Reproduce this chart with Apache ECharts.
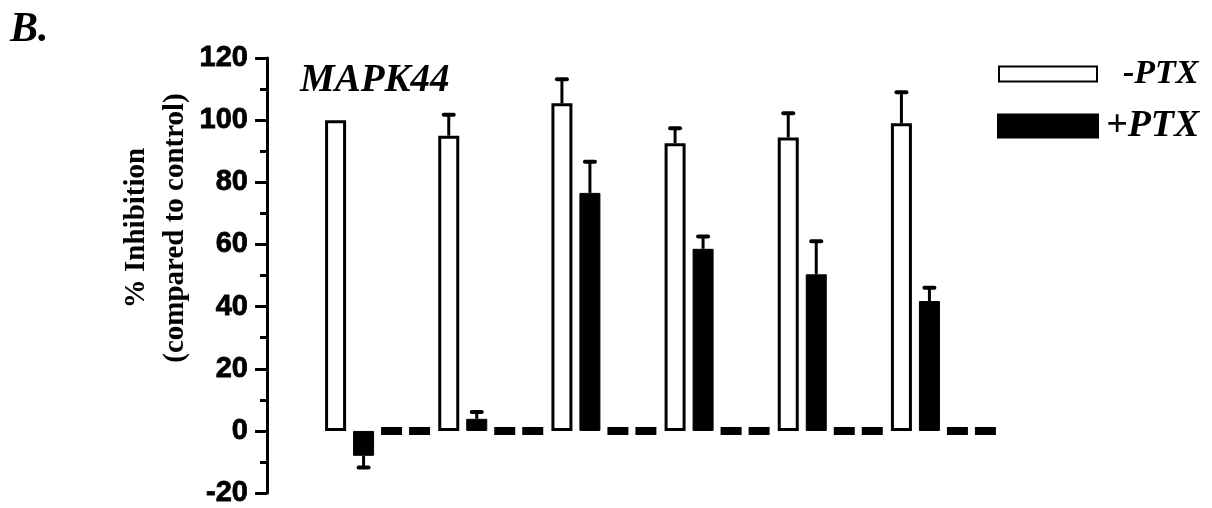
<!DOCTYPE html>
<html>
<head>
<meta charset="utf-8">
<script src="https://cdn.jsdelivr.net/npm/echarts@6/dist/echarts.min.js"></script>
<style>html,body{margin:0;padding:0;background:#fff;}#c{width:1212px;height:508px;}</style>
</head>
<body>
<div id="c"></div>
<script>
// ---- data ----
var categories = ['1', '2', '3', '4', '5', '6'];
var minusPTX = [100, 95, 105.4, 92.6, 94.4, 99];
var minusPTXErr = [0, 6.7, 7.8, 4.8, 7.8, 10];
var plusPTX = [-8, 3.9, 76.6, 58.6, 50.4, 41.8];
var plusPTXErr = [3.8, 2.2, 10, 4, 10.6, 4.3];
var ctrlA = [0, 0, 0, 0, 0, 0];
var ctrlB = [0, 0, 0, 0, 0, 0];
var yTicks = { min: -20, max: 120, interval: 20 };

// ---- layout constants ----
var BAR_W = 21, BAR_GAP = 7;
var slotOffset = function (slot) { return (slot - 1.5) * (BAR_W + BAR_GAP); };

var errData = [];
minusPTX.forEach(function (v, i) { if (minusPTXErr[i] > 0) errData.push([i, v, minusPTXErr[i], 0]); });
plusPTX.forEach(function (v, i) { if (plusPTXErr[i] > 0) errData.push([i, v, plusPTXErr[i], 1]); });

var serif = 'Liberation Serif';
var chart = echarts.init(document.getElementById('c'));
chart.setOption({
  animation: false,
  backgroundColor: '#fff',
  grid: { left: 321, right: 212, top: 58, bottom: 14 },
  legend: [
    {
      data: [{ name: '-PTX', icon: 'rect' }],
      left: 998, top: 57, padding: 0,
      itemWidth: 98, itemHeight: 15,
      selectedMode: false,
      textStyle: { fontFamily: serif, fontStyle: 'italic', fontWeight: 'bold', fontSize: 34, color: '#000', padding: [0, 0, 0, 21] }
    },
    {
      data: [{ name: '+PTX', icon: 'rect' }],
      left: 997, top: 107, padding: 0,
      itemWidth: 100, itemHeight: 23,
      selectedMode: false,
      textStyle: { fontFamily: serif, fontStyle: 'italic', fontWeight: 'bold', fontSize: 38, color: '#000', padding: [0, 0, 0, 3] }
    }
  ],
  xAxis: {
    type: 'category', data: categories,
    axisLine: { show: false }, axisTick: { show: false }, axisLabel: { show: false }, splitLine: { show: false }
  },
  yAxis: {
    type: 'value', min: yTicks.min, max: yTicks.max, interval: yTicks.interval,
    offset: 54,
    axisLine: { show: true, lineStyle: { color: '#000', width: 3 } },
    axisTick: { show: true, length: 12, lineStyle: { color: '#000', width: 3 } },
    minorTick: { show: true, splitNumber: 2, length: 7, lineStyle: { color: '#000', width: 3 } },
    axisLabel: {
      color: '#000', fontFamily: 'Liberation Sans', fontWeight: 'bold', fontSize: 29, margin: 19,
      textBorderColor: '#000', textBorderWidth: 0.8
    },
    splitLine: { show: false }
  },
  series: [
    {
      name: '-PTX', type: 'bar', data: minusPTX, barWidth: BAR_W, barGap: (BAR_GAP / BAR_W * 100) + '%',
      itemStyle: { color: '#fff', borderColor: '#000', borderWidth: 3 }
    },
    {
      name: '+PTX', type: 'bar', data: plusPTX, barWidth: BAR_W,
      itemStyle: { color: '#000', borderColor: '#000', borderWidth: 1 }
    },
    {
      name: 'ctrlA', type: 'bar', data: ctrlA, barWidth: BAR_W,
      itemStyle: { color: '#000', borderColor: '#000', borderWidth: 8 }
    },
    {
      name: 'ctrlB', type: 'bar', data: ctrlB, barWidth: BAR_W,
      itemStyle: { color: '#000', borderColor: '#000', borderWidth: 8 }
    },
    {
      type: 'custom', data: errData, z: 5,
      renderItem: function (params, api) {
        var cat = api.value(0), v = api.value(1), e = api.value(2), slot = api.value(3);
        var x = api.coord([cat, 0])[0] + slotOffset(slot);
        var end = v >= 0 ? v + e : v - e;
        var y1 = api.coord([cat, v])[1];
        var y2 = api.coord([cat, end])[1];
        return {
          type: 'group',
          children: [
            { type: 'line', shape: { x1: x, y1: y1, x2: x, y2: y2 }, style: { stroke: '#000', lineWidth: 3 } },
            { type: 'line', shape: { x1: x - 5, y1: y2, x2: x + 5, y2: y2 }, style: { stroke: '#000', lineWidth: 4, lineCap: 'round' } }
          ]
        };
      }
    }
  ],
  graphic: [
    { type: 'text', left: 10, top: 9, style: { text: 'B.', font: 'italic bold 42px "Liberation Serif"', fill: '#000' } },
    { type: 'text', left: 300, top: 61, style: { text: 'MAPK44', font: 'italic bold 39px "Liberation Serif"', fill: '#000' } },
    {
      type: 'text', x: 156, y: 228, rotation: Math.PI / 2,
      style: {
        text: '% Inhibition\n(compared to control)', font: 'bold 29px "Liberation Serif"', fill: '#000',
        align: 'center', verticalAlign: 'middle', lineHeight: 39
      }
    }
  ]
});
</script>
</body>
</html>
